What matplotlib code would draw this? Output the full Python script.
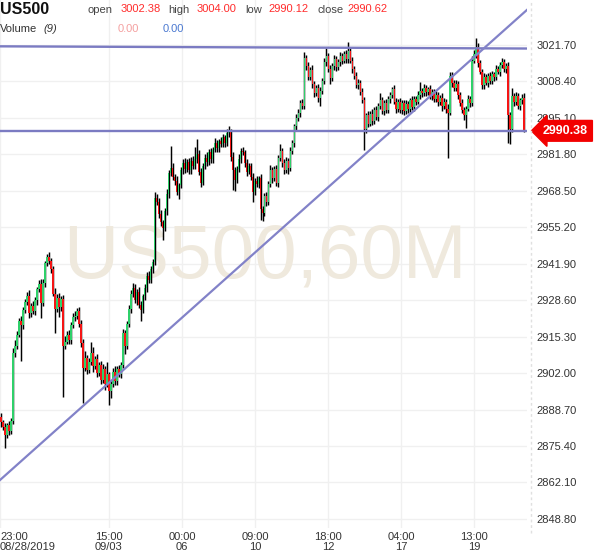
import matplotlib
matplotlib.use("Agg")
import matplotlib.pyplot as plt
import matplotlib.transforms as mtransforms
from matplotlib.lines import Line2D
import numpy as np

# ---------------- data ----------------
first_open = 2886.0
closes = [
    2884.0, 2882.5, 2879.5, 2883.0, 2881.0, 2884.5, 2909.5, 2912.0, 2916.0, 2921.0,
    2919.5, 2925.0, 2928.0, 2930.0, 2924.0, 2926.5, 2924.5, 2928.5, 2932.5, 2934.5,
    2927.5, 2935.0, 2942.0, 2944.5, 2943.0, 2940.0, 2931.0, 2925.5, 2929.5, 2926.0,
    2929.0, 2912.0, 2913.5, 2916.0, 2914.0, 2919.5, 2922.5, 2923.0, 2924.5, 2920.0,
    2913.0, 2904.0, 2907.5, 2903.0, 2906.0, 2909.5, 2904.5, 2907.0, 2902.0, 2905.0,
    2899.5, 2903.5, 2898.0, 2901.5, 2895.5, 2898.0, 2902.5, 2899.0, 2903.5, 2901.5,
    2905.0, 2916.5, 2912.0, 2920.0, 2925.5, 2931.0, 2933.0, 2928.5, 2931.5, 2927.0,
    2925.0, 2930.0, 2933.0, 2937.5, 2936.0, 2940.0, 2942.5, 2966.0, 2964.5, 2960.0,
    2957.0, 2955.0, 2961.0, 2967.5, 2975.0, 2977.0, 2973.5, 2972.0, 2968.0, 2970.5,
    2976.0, 2978.5, 2976.5, 2979.0, 2976.0, 2979.5, 2977.5, 2980.0, 2982.0, 2975.5,
    2971.5, 2977.5, 2980.5, 2979.0, 2982.5, 2980.0, 2983.5, 2986.0, 2984.0, 2986.5,
    2985.5, 2988.0, 2986.0, 2989.5, 2990.0, 2981.0, 2976.0, 2972.5, 2976.5, 2980.0,
    2983.0, 2982.5, 2978.5, 2975.5, 2977.5, 2973.5, 2968.0, 2972.0, 2971.0, 2973.0,
    2962.0, 2960.5, 2966.5, 2964.5, 2971.0, 2976.0, 2973.0, 2976.5, 2971.5, 2980.5,
    2983.0, 2978.5, 2976.0, 2979.5, 2977.0, 2983.0, 2986.0, 2992.0, 2995.0, 2997.0,
    3000.5, 2999.5, 3017.0, 3014.0, 3010.0, 3012.5, 3007.5, 3004.0, 3006.0, 3002.5,
    3005.0, 3008.5, 3015.5, 3017.5, 3013.0, 3009.5, 3014.0, 3016.5, 3013.5, 3015.5,
    3017.5, 3016.0, 3018.5, 3016.5, 3019.5, 3016.0, 3013.0, 3010.5, 3007.0, 3008.0,
    3004.5, 3001.5, 2991.0, 2996.0, 2993.0, 2996.5, 2994.0, 2998.0, 2995.5, 2999.5,
    3001.5, 2997.5, 3000.5, 2998.0, 3002.0, 3003.5, 3005.5, 3001.0, 2998.5, 3001.0,
    2998.0, 3000.5, 2997.5, 3000.0, 2998.5, 3001.5, 2999.0, 3002.0, 3001.0, 3003.5,
    3005.0, 3004.0, 3006.0, 3004.5, 3005.5, 3003.0, 3004.5, 3002.0, 3003.5, 3001.0,
    3002.5, 2999.5, 3001.0, 2998.5, 2997.0, 3010.5, 3008.0, 3006.0, 3007.5, 3003.5,
    3000.5, 2998.0, 2996.0, 2998.5, 3002.0, 3000.5, 3016.0, 3018.5, 3021.0, 3015.0,
    3012.0, 3007.0, 3010.0, 3008.0, 3010.5, 3008.5, 3011.0, 3010.0, 3013.0, 3012.0,
    3014.5, 3015.5, 3013.0, 3014.0, 2996.0, 2991.0, 3003.0, 3001.0, 3003.0, 2999.5,
    3001.5, 3002.38, 2990.62,
]
wick_up = [
    1.5, 1.0, 1.2, 0.8, 1.6, 1.0, 1.5, 2.0, 1.2, 1.0,
    1.8, 1.2, 1.0, 1.5, 2.2, 1.0, 1.8, 1.2, 1.0, 1.5,
    2.0, 1.2, 1.0, 1.1, 1.5, 1.0, 1.2, 2.0, 1.5, 1.8,
    1.0, 1.5, 2.0, 1.2, 1.6, 1.0, 1.4, 1.8, 1.3, 1.5,
    1.2, 1.5, 2.5, 1.0, 1.5, 4.0, 2.0, 1.2, 1.8, 1.0,
    1.5, 2.0, 1.2, 4.5, 1.0, 1.5, 1.2, 2.0, 1.0, 1.5,
    1.0, 1.5, 1.2, 1.0, 1.5, 1.2, 1.9, 1.5, 1.0, 2.0,
    1.2, 1.0, 1.5, 1.2, 1.8, 1.0, 1.2, 2.0, 1.5, 1.2,
    1.5, 1.0, 1.2, 1.5, 1.0, 8.0, 1.5, 1.2, 1.8, 1.0,
    1.2, 1.5, 2.0, 1.0, 1.5, 1.2, 1.8, 4.5, 5.5, 1.5,
    1.2, 1.0, 1.5, 2.0, 1.2, 1.5, 1.0, 1.8, 1.2, 1.0,
    1.5, 1.2, 1.0, 1.5, 2.0, 1.0, 1.5, 1.2, 1.0, 1.8,
    1.2, 1.5, 1.0, 1.5, 1.2, 1.0, 1.5, 1.2, 1.8, 1.0,
    1.5, 1.0, 1.2, 1.5, 1.0, 1.8, 1.2, 1.0, 1.5, 1.2,
    2.5, 1.0, 1.5, 1.2, 1.0, 1.5, 1.2, 1.0, 1.5, 1.2,
    1.0, 1.5, 2.0, 1.2, 1.5, 1.0, 1.8, 1.2, 1.0, 1.5,
    1.2, 1.0, 1.5, 3.1, 1.2, 1.5, 1.0, 1.5, 1.2, 1.0,
    1.5, 1.2, 1.0, 1.5, 3.3, 1.5, 1.2, 1.0, 1.5, 1.2,
    1.0, 1.5, 1.2, 1.0, 1.5, 1.2, 1.8, 1.0, 1.5, 1.2,
    2.5, 1.2, 1.0, 1.5, 1.2, 1.0, 1.0, 1.5, 1.2, 1.0,
    1.5, 1.2, 1.0, 1.5, 1.2, 1.0, 1.5, 1.2, 1.0, 1.5,
    3.2, 1.0, 1.5, 1.2, 1.0, 1.5, 1.2, 1.0, 1.5, 1.2,
    1.0, 1.5, 1.2, 1.0, 1.5, 1.5, 1.2, 1.0, 1.5, 1.2,
    1.0, 1.5, 1.2, 1.0, 1.5, 1.2, 1.5, 1.2, 3.3, 1.5,
    1.2, 1.0, 1.5, 1.2, 1.0, 1.5, 1.2, 1.0, 1.5, 1.2,
    1.0, 1.3, 1.2, 1.0, 1.5, 1.2, 3.0, 1.0, 1.5, 1.2,
    1.0, 1.5, 1.62,
]
wick_dn = [
    1.5, 1.2, 5.0, 1.0, 1.5, 1.2, 1.0, 1.5, 1.2, 1.0,
    13.0, 1.5, 1.2, 1.0, 2.0, 1.5, 1.0, 1.2, 1.5, 1.0,
    5.5, 1.2, 1.5, 1.0, 1.2, 1.5, 1.0, 9.0, 1.2, 3.5,
    1.5, 18.7, 1.2, 1.0, 1.5, 1.2, 1.0, 1.5, 1.2, 1.0,
    1.5, 12.9, 1.2, 1.5, 1.0, 1.2, 2.0, 1.0, 1.5, 1.2,
    1.5, 1.0, 2.0, 1.2, 5.1, 2.5, 1.0, 1.5, 1.2, 1.0,
    1.2, 1.0, 3.0, 1.2, 1.0, 1.5, 1.2, 1.0, 1.5, 1.2,
    4.0, 1.0, 1.2, 1.5, 1.0, 1.2, 1.5, 1.0, 1.2, 1.5,
    1.2, 4.4, 1.0, 1.2, 1.5, 1.0, 1.2, 1.5, 1.0, 2.5,
    1.0, 1.2, 1.5, 1.0, 1.2, 1.5, 1.0, 1.2, 1.5, 1.2,
    1.5, 1.0, 1.2, 1.5, 1.0, 1.2, 1.5, 1.0, 1.2, 1.5,
    1.0, 1.2, 1.5, 1.0, 1.2, 1.5, 7.2, 4.0, 1.0, 1.2,
    1.5, 1.0, 1.2, 1.5, 1.0, 1.2, 3.5, 1.0, 1.2, 1.5,
    4.0, 3.0, 1.2, 1.5, 1.0, 1.2, 1.5, 1.0, 1.2, 1.5,
    1.0, 1.2, 1.5, 1.0, 2.5, 1.2, 1.0, 1.5, 1.2, 1.0,
    1.5, 1.2, 1.0, 1.5, 1.2, 1.0, 1.5, 1.2, 1.0, 1.5,
    3.0, 1.2, 1.0, 1.5, 1.2, 2.0, 1.0, 1.5, 1.2, 1.0,
    1.5, 1.2, 1.0, 1.5, 1.2, 1.0, 1.5, 1.2, 1.0, 1.5,
    1.2, 1.0, 7.6, 1.5, 1.2, 1.0, 1.5, 1.2, 1.0, 1.5,
    1.2, 1.0, 1.5, 1.2, 1.0, 1.5, 1.2, 1.0, 1.5, 1.2,
    1.0, 1.5, 1.2, 1.0, 1.5, 1.2, 1.0, 1.5, 1.2, 1.0,
    1.5, 1.2, 1.0, 1.5, 1.2, 1.0, 1.5, 1.2, 1.0, 1.5,
    1.2, 2.0, 1.0, 1.5, 16.5, 1.0, 1.5, 1.2, 1.0, 1.5,
    1.2, 1.0, 1.5, 4.6, 1.0, 1.5, 1.2, 1.0, 1.5, 1.2,
    1.0, 1.5, 1.2, 1.0, 1.5, 1.2, 1.0, 1.5, 1.2, 1.0,
    1.5, 1.2, 1.0, 1.5, 10.1, 5.5, 1.0, 1.5, 1.2, 1.0,
    1.5, 1.2, 0.5,
]

price_ticks = [3021.70, 3008.40, 2995.10, 2981.80, 2968.50, 2955.20, 2941.90,
               2928.60, 2915.30, 2902.00, 2888.70, 2875.40, 2862.10, 2848.80]
time_pos = [-0.5, 54.1, 90.7, 127.3, 163.8, 200.4, 237.0]
time_top = ["23:00", "15:00", "00:00", "09:00", "18:00", "04:00", "13:00"]
time_bot = ["08/28/2019", "09/03", "06", "10", "12", "17", "19"]

resistance = [3021.2, 3020.4]          # left / right end
support = 2990.38
trend = [2863.0, 3034.5]               # left / right end
last_price = 2990.38

header_vals = {"open": "3002.38", "high": "3004.00", "low": "2990.12", "close": "2990.62"}
volume_vals = ["0.00", "0.00"]

# ---------------- figure ----------------
plt.rcParams['font.family'] = ['Liberation Sans', 'DejaVu Sans']
W, H = 600, 558
fig = plt.figure(figsize=(W / 100, H / 100), dpi=100)
fig.patch.set_facecolor('white')
ax = fig.add_axes([0, 30 / H, 527 / W, 528 / H])
ax.set_facecolor('white')

n = len(closes)
idx = np.arange(n)
c = np.array(closes)
o = np.array([first_open] + closes[:-1])
hi = np.maximum(o, c) + np.array(wick_up)
lo = np.minimum(o, c) - np.array(wick_dn)

GREEN = '#2fd06a'
RED = '#f51515'
ax.vlines(idx, lo, hi, color='black', linewidth=1.05, zorder=3)
cols = [GREEN if ci >= oi else RED for ci, oi in zip(c, o)]
body_h = np.maximum(np.abs(c - o), 0.3)
ax.bar(idx, body_h, bottom=np.minimum(o, c), width=0.75, color=cols,
       linewidth=0, zorder=4)

xl = (-0.5, n + 0.5)
ax.set_xlim(*xl)
ax.set_ylim(2845.5, 3038.1)

LINE = '#7b7bc2'
ax.plot(xl, resistance, color=LINE, lw=1.7, zorder=5, solid_capstyle='butt')
ax.plot(xl, [support, support], color=LINE, lw=1.7, zorder=5)
ax.plot(xl, trend, color='#8282c8', lw=1.6, zorder=5)

# watermark
ax.text(265 / 527, (528 - 259) / 528, "US500,60M", transform=ax.transAxes,
        ha='center', va='center', fontsize=55, color='#efe9dd', zorder=1)

# grid / ticks
ax.set_yticks(price_ticks)
ax.set_yticklabels([f"{p:.2f}" for p in price_ticks])
ax.yaxis.tick_right()
ax.tick_params(axis='y', length=0, pad=7, labelsize=8, labelcolor='#333333')
ax.set_xticks(time_pos)
ax.set_xticklabels([f"{a}\n{b}" for a, b in zip(time_top, time_bot)])
ax.tick_params(axis='x', length=0, pad=3, labelsize=8, labelcolor='#333333')
for t in ax.get_xticklabels():
    t.set_linespacing(0.95)
ax.get_xticklabels()[0].set_ha('left')
ax.grid(True, color='#f0f0f0', linewidth=1.0, zorder=0)
ax.set_axisbelow(True)
for s in ax.spines.values():
    s.set_visible(False)

# dashed separator
fig.add_artist(Line2D([530.5 / W, 530.5 / W], [25 / H, 1], color='#e0e0e0',
                      lw=1, ls=(0, (2, 2))))

# last price label
tr = mtransforms.blended_transform_factory(ax.transAxes, ax.transData)
ax.text(1.0 + 16 / 527, last_price, f"{last_price:.2f}", transform=tr,
        ha='left', va='center', fontsize=9, fontweight='bold', color='white',
        zorder=10, clip_on=False,
        bbox=dict(boxstyle='larrow,pad=0.35', fc='#f20000', ec='#f20000'))

# header
def ftxt(x, y, s, **kw):
    fig.text(x / W, 1 - y / H, s, va='center', ha='left', **kw)

ftxt(0, 9, "US500", fontsize=11.5, fontweight='bold', color='#111111')
ftxt(88, 10, "open", fontsize=8, color='#444444')
ftxt(121, 9, header_vals["open"], fontsize=8, color='#ff2b2b')
ftxt(168, 10, "high", fontsize=8, color='#444444')
ftxt(197, 9, header_vals["high"], fontsize=8, color='#ff2b2b')
ftxt(245, 10, "low", fontsize=8, color='#444444')
ftxt(268, 9, header_vals["low"], fontsize=8, color='#ff2b2b')
ftxt(318, 10, "close", fontsize=8, color='#444444')
ftxt(347, 9, header_vals["close"], fontsize=8, color='#ff2b2b')
ftxt(0, 29, "Volume", fontsize=8, color='#333333')
ftxt(43, 29, "(9)", fontsize=8, color='#333333', style='italic')
ftxt(118, 29, volume_vals[0], fontsize=8, color='#f4a0a0')
ftxt(163, 29, volume_vals[1], fontsize=8, color='#4a78d0')

fig.savefig("out.png", dpi=100, facecolor='white')
